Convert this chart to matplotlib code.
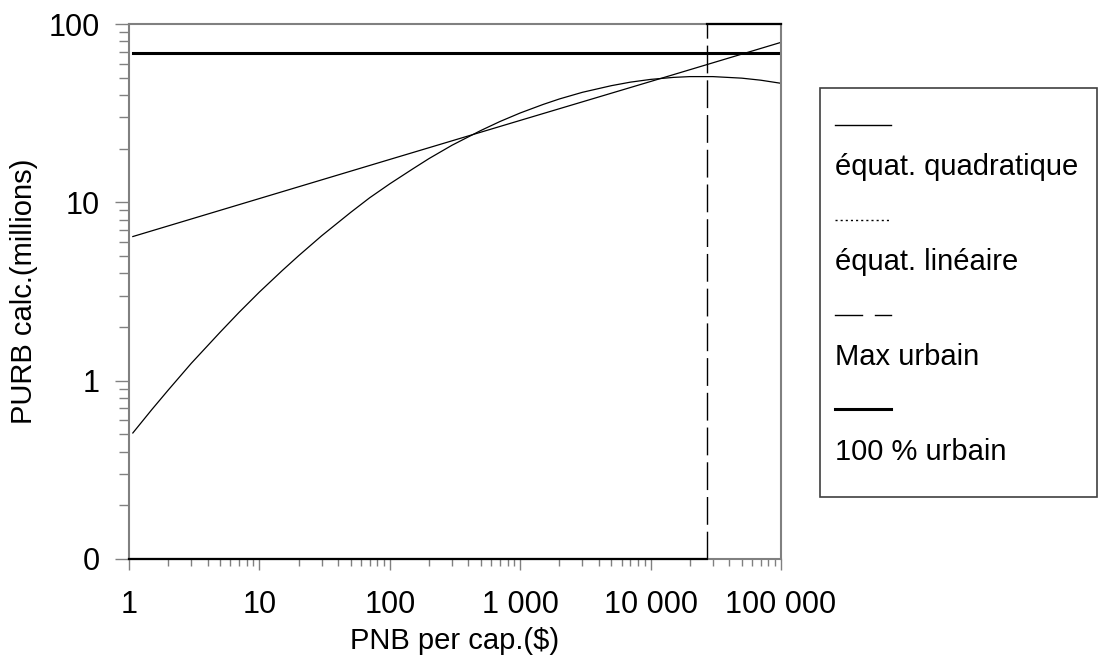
import numpy as np
import matplotlib
matplotlib.use('Agg')
import matplotlib.pyplot as plt
from matplotlib.patches import Rectangle
from matplotlib.lines import Line2D

plt.rcParams['font.family'] = ['Liberation Sans', 'DejaVu Sans']

# values (log-log chart)
pnb_quad = [1.07, 1.5, 2, 3, 5, 7, 10, 15, 20, 30, 50, 70, 100, 150, 200, 300,
            500, 700, 1000, 1500, 2000, 3000, 5000, 7000, 10000, 15000, 20000,
            30000, 50000, 70000, 100000]
purb_quad = [0.509, 0.690, 0.886, 1.25, 1.87, 2.42, 3.14, 4.15, 5.02, 6.49,
             8.77, 10.6, 12.7, 15.4, 17.6, 20.9, 25.3, 28.4, 31.7, 35.4, 38.0,
             41.4, 45.1, 47.2, 48.9, 50.2, 50.7, 50.7, 49.7, 48.4, 46.5]
pnb_lin = [1.07, 10, 100, 1000, 10000, 100000]
purb_lin = [6.43, 10.5, 17.4, 28.8, 47.6, 78.9]
pnb_max_urbain = 27000
purb_100 = 68.6
x_ticks = [1, 10, 100, 1000, 10000, 100000]
x_labels = ['1', '10', '100', '1 000', '10 000', '100 000']
y_ticks = [0.1, 1, 10, 100]
y_labels = ['0', '1', '10', '100']
legend_labels = ['équat. quadratique', 'équat. linéaire', 'Max urbain', '100 % urbain']

W, H = 1100, 658
fig = plt.figure(figsize=(W / 100, H / 100), dpi=100)
ax = fig.add_axes([129 / W, 1 - 559 / H, 652 / W, 535 / H])
ax.set_xscale('log')
ax.set_yscale('log')
ax.set_xlim(1, 100000)
ax.set_ylim(0.1, 100)

ax.plot(pnb_quad, purb_quad, color='black', lw=0.9)
ax.plot(pnb_lin, purb_lin, color='black', lw=0.9)
ax.plot([pnb_lin[0], 100000], [purb_100, purb_100], color='black', lw=2.2)
ax.plot([pnb_max_urbain, pnb_max_urbain], [0.1, 100], color='black', lw=1.0,
        linestyle=(0, (20, 5)))
ax.plot([1, pnb_max_urbain], [0.1, 0.1], color='black', lw=1.6, clip_on=False, zorder=5)
ax.plot([pnb_max_urbain, 100000], [100, 100], color='black', lw=1.6, clip_on=False, zorder=5)

for s in ax.spines.values():
    s.set_color('#808080')
    s.set_linewidth(1.5)

ax.set_xticks(x_ticks)
ax.set_xticklabels(x_labels)
ax.set_yticks(y_ticks)
ax.set_yticklabels(y_labels)
ax.tick_params(axis='both', which='both', colors='#808080', labelcolor='black',
               labelsize=22, width=1.0)
ax.tick_params(axis='y', which='major', length=10, pad=11)
ax.tick_params(axis='y', which='minor', length=7)
ax.tick_params(axis='x', which='major', length=8, pad=14)
ax.tick_params(axis='x', which='minor', length=5)

ax.set_xlabel('PNB per cap.($)', fontsize=21, va='center')
ax.set_ylabel('PURB calc.(millions)', fontsize=21, va='center')
ax.xaxis.set_label_coords(0.5, (559 - 641) / 535)
ax.yaxis.set_label_coords((24 - 129) / 652, 0.5)


def fx(px):
    return px / W


def fy(py):
    return 1 - py / H


fig.add_artist(Rectangle((fx(820), fy(497)), fx(1097) - fx(820), fy(88) - fy(497),
                         transform=fig.transFigure, fill=False,
                         edgecolor='#404040', lw=1.2))
# legend samples: (x segments, line width, dash)
samples = [([(835, 891)], 1.0, '-'),
           ([(835, 891)], 1.0, (0, (1.5, 2.2))),
           ([(835, 862), (875, 891)], 1.0, '-'),
           ([(835, 891)], 2.2, '-')]
sample_y = [125, 220, 315, 409]
text_y = [167, 262, 357, 452]
for lab, (segs, lw, ls), sy, ty in zip(legend_labels, samples, sample_y, text_y):
    for x0, x1 in segs:
        fig.add_artist(Line2D([fx(x0), fx(x1)], [fy(sy), fy(sy)], color='black',
                              lw=lw, linestyle=ls, transform=fig.transFigure))
    fig.text(fx(835), fy(ty), lab, fontsize=21, va='center', ha='left')

fig.savefig('out.png', dpi=100)
